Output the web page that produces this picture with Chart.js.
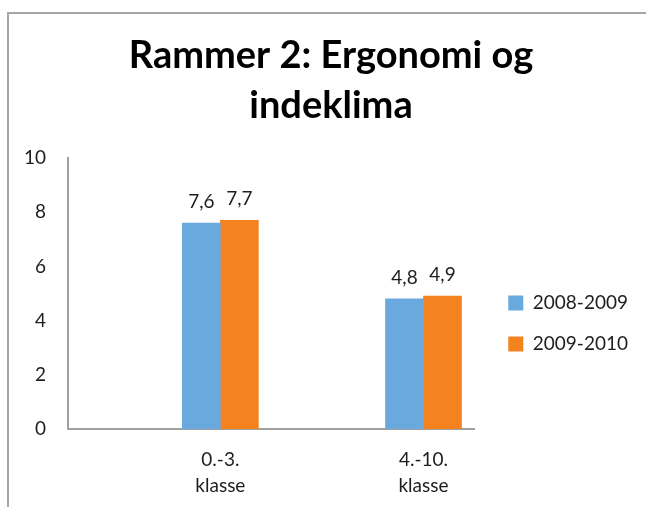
<!DOCTYPE html>
<html>
<head>
<meta charset="utf-8">
<script src="https://cdn.jsdelivr.net/npm/chart.js@4"></script>
<style>
  html, body { margin: 0; padding: 0; background: #fff; overflow: hidden; }
  #frame { position: absolute; left: 7px; top: 12px; width: 700px; height: 600px; border: 2px solid #a6a6a6; }
  #chart { position: absolute; left: 0; top: 0; }
</style>
</head>
<body>
<div id="frame"></div>
<canvas id="chart" width="662" height="526"></canvas>
<script>
// data
const categories = [["0.-3.", "klasse"], ["4.-10.", "klasse"]];
const seriesNames = ["2008-2009", "2009-2010"];
const values0809 = [7.6, 4.8];
const values0910 = [7.7, 4.9];
const yMin = 0, yMax = 10, yStep = 2;
const titleLines = ["Rammer 2: Ergonomi og", "indeklima"];

const BLUE = "#6aa9de";
const ORANGE = "#f4821f";
const AXIS = "#a0a0a0";
const TEXT = "#1e1e1e";
const FONT = "Lato, 'Open Sans', sans-serif";

function points(vals) {
  return vals.map((v, i) => ({ x: i + 1, y: v }));
}

function fmtComma(v) {
  return v.toFixed(1).replace(".", ",");
}

// value labels above each bar
const barLabels = {
  id: "barLabels",
  afterDatasetsDraw(chart) {
    const ctx = chart.ctx;
    ctx.save();
    ctx.font = `19px ${FONT}`;
    ctx.fillStyle = TEXT;
    ctx.textAlign = "center";
    ctx.textBaseline = "alphabetic";
    chart.data.datasets.forEach((ds, di) => {
      chart.getDatasetMeta(di).data.forEach((bar, i) => {
        ctx.fillText(fmtComma(ds.data[i].y), bar.x, bar.y - 15);
      });
    });
    ctx.restore();
  }
};

// the original centres its title over a wider box and sets the legend a bit off the plot
const boxNudge = {
  id: "boxNudge",
  afterLayout(chart) {
    const t = chart.titleBlock;
    if (t) { t.left += 18; t.right += 18; }
    const lg = chart.legend;
    if (lg) {
      lg.left += 12; lg.right += 12;
      lg.top += 30; lg.bottom += 30;
    }
  }
};

new Chart(document.getElementById("chart"), {
  type: "bar",
  data: {
    datasets: [
      { label: seriesNames[0], data: points(values0809), backgroundColor: BLUE, borderWidth: 0, barThickness: 38 },
      { label: seriesNames[1], data: points(values0910), backgroundColor: ORANGE, borderWidth: 0, barThickness: 38 },
    ]
  },
  options: {
    responsive: false,
    animation: false,
    layout: { padding: { left: 0, right: 36, top: 0, bottom: 9 } },
    plugins: {
      title: {
        display: true,
        text: titleLines,
        color: "#000",
        font: { family: FONT, size: 38, weight: "bold", lineHeight: 1.316 },
        padding: { top: 31, bottom: 27 }
      },
      legend: {
        position: "right",
        align: "center",
        fullSize: false,
        labels: { color: TEXT, font: { family: FONT, size: 19 }, boxWidth: 15, boxHeight: 15, padding: 22 }
      },
      tooltip: { enabled: false }
    },
    scales: {
      x: {
        type: "linear",
        min: 0.25,
        max: 2.25,
        offset: false,
        afterBuildTicks: (scale) => { scale.ticks = categories.map((c, i) => ({ value: i + 1 })); },
        ticks: {
          color: TEXT,
          font: { family: FONT, size: 19, lineHeight: 1.37 },
          padding: 18,
          autoSkip: false,
          maxRotation: 0,
          callback: (v) => categories[v - 1] || ""
        },
        grid: { display: false, drawTicks: false },
        border: { display: true, color: AXIS, width: 2 }
      },
      y: {
        min: yMin,
        max: yMax,
        afterFit: (scale) => { scale.width = 68; },
        ticks: { stepSize: yStep, color: TEXT, font: { family: FONT, size: 19 }, padding: 22 },
        grid: { display: false, drawTicks: false },
        border: { display: true, color: AXIS, width: 2 }
      }
    }
  },
  plugins: [barLabels, boxNudge]
});
</script>
</body>
</html>
